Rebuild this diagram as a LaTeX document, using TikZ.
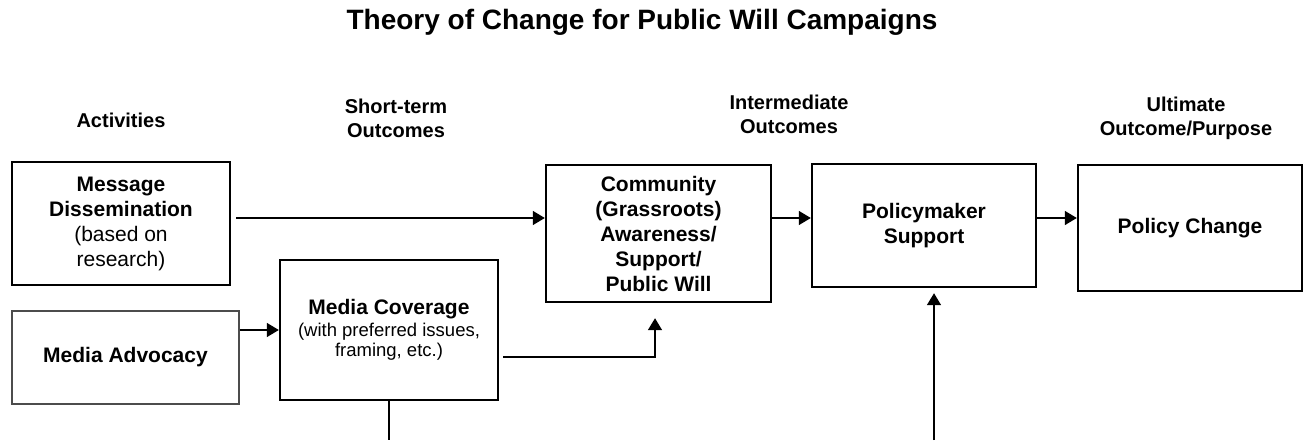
\documentclass[tikz,border=0pt]{standalone}
\usepackage{fontspec}
\setmainfont{Liberation Sans}
\usetikzlibrary{arrows.meta}

\begin{document}
\begin{tikzpicture}[x=1pt, y=-1pt]
    % Styles
    \tikzstyle{stage}=[draw, line width=2.4pt, inner sep=0pt, align=center, font=\fontsize{21}{25}\selectfont]
    \tikzstyle{thinstage}=[stage, draw=black!70, line width=1.2pt]
    \tikzstyle{link}=[-{Triangle[length=12pt, width=14pt]}, line width=1.6pt]
    \tikzstyle{header}=[align=center, font=\fontsize{20}{24}\selectfont\bfseries]
    \useasboundingbox (0,0) rectangle (1303,440);
    % Title
    \node[font=\fontsize{28}{32}\selectfont\bfseries] (title) at (642,22) {Theory of Change for Public Will Campaigns};
    % Column headers
    \node[header] (hact) at (121,120) {Activities};
    \node[header] (hshort) at (396,118.5) {Short-term\\Outcomes};
    \node[header] (hmid) at (789,114) {Intermediate\\Outcomes};
    \node[header] (hend) at (1186,118) {Ultimate\\Outcome/Purpose};
    % Activities
    \node[stage, minimum width=218pt, minimum height=123pt] (msg) at (121,223.5) {\textbf{Message}\\\textbf{Dissemination}\\(based on\\research)};
    \node[thinstage, minimum width=227pt, minimum height=93pt] (adv) at (125.5,357.5) {\textbf{Media Advocacy}};
    % Short-term outcome
    \node[stage, minimum width=218pt, minimum height=140pt, font=\fontsize{18.5}{20}\selectfont] (cov) at (389,330) {{\fontsize{21}{25}\selectfont\bfseries Media Coverage}\\[2pt](with preferred issues,\\framing, etc.)};
    % Intermediate outcomes
    \node[stage, minimum width=225pt, minimum height=137pt, font=\fontsize{21}{25}\selectfont\bfseries] (com) at (658.5,233.5) {Community\\(Grassroots)\\Awareness/\\Support/\\Public Will};
    \node[stage, minimum width=224pt, minimum height=123pt, font=\fontsize{21}{25}\selectfont\bfseries] (pol) at (924,225.5) {Policymaker\\Support};
    % Ultimate outcome
    \node[stage, minimum width=224pt, minimum height=126pt, font=\fontsize{21}{25}\selectfont\bfseries] (chg) at (1190,228) {Policy Change};
    % Loose ends at the bottom edge
    \coordinate (covend) at (389,440);
    \coordinate (polstart) at (934,440);
    % Connectors
    \draw[link, shorten <=5pt] ([yshift=5.5pt]msg.east) -- ([yshift=5.5pt]msg.east -| com.west);
    \draw[link] (cov.west -| adv.east) -- (cov.west);
    \draw[link, shorten <=4pt, shorten >=15pt] ([yshift=-27pt]cov.east) -| ([xshift=-3.5pt]com.south);
    \draw[link] ([yshift=15.5pt]com.east) -- ([yshift=15.5pt]com.east -| pol.west);
    \draw[link] ([yshift=10pt]chg.west -| pol.east) -- ([yshift=10pt]chg.west);
    \draw[line width=1.6pt] (cov.south) -- (covend);
    \draw[link, shorten >=5pt] (polstart) -- (polstart |- pol.south);
\end{tikzpicture}
\end{document}
